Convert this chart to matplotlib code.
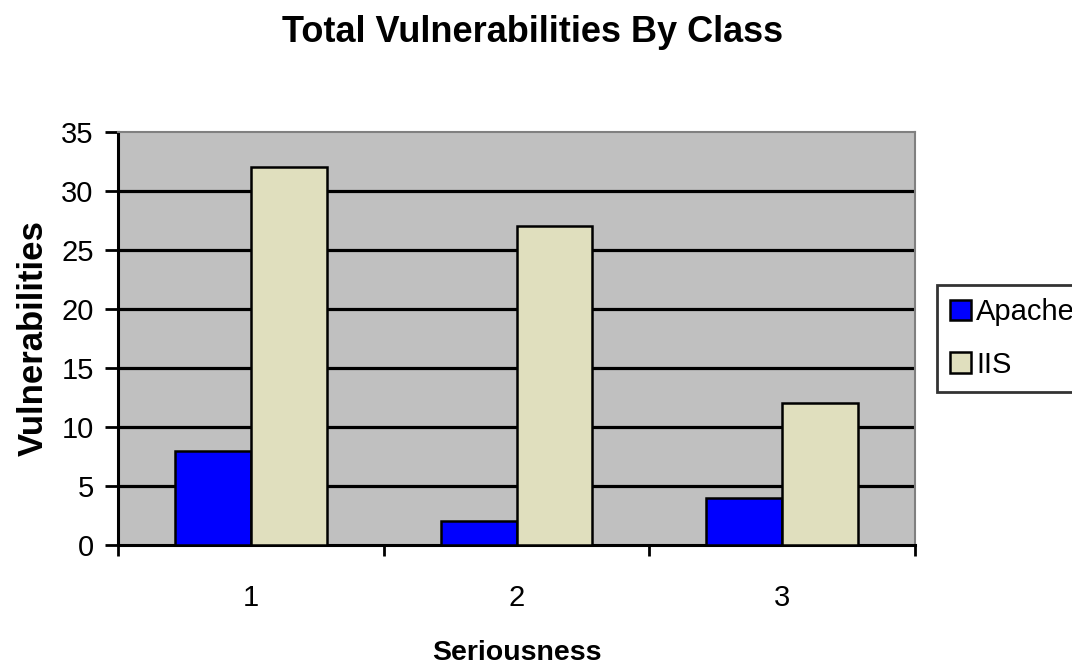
import matplotlib
matplotlib.use("Agg")
import matplotlib.pyplot as plt
import numpy as np

categories = ["1", "2", "3"]
apache = [8, 2, 4]
iis = [32, 27, 12]
series_names = ["Apache", "IIS"]
yticks = [0, 5, 10, 15, 20, 25, 30, 35]

plt.rcParams['font.family'] = ['Liberation Sans', 'DejaVu Sans']

fig = plt.figure(figsize=(10.72, 6.69), dpi=100)
ax = fig.add_axes([118/1072, 1-545/669, (915-118)/1072, (545-132)/669])
ax.set_facecolor('#C0C0C0')

x = np.arange(1, len(categories) + 1)
w = 0.285
ax.bar(x - w/2, apache, w, color='#0000FF', edgecolor='black', linewidth=1.8, zorder=3, label=series_names[0])
ax.bar(x + w/2, iis, w, color='#E0DFBE', edgecolor='black', linewidth=1.8, zorder=3, label=series_names[1])

ax.set_xlim(0.5, len(categories) + 0.5)
ax.set_ylim(0, 35)
ax.set_yticks(yticks)
ax.set_yticklabels([str(t) for t in yticks], fontsize=21)
for t in yticks[1:-1]:
    ax.axhline(t, color='black', linewidth=2.3, zorder=1)

ax.set_xticks(x)
ax.set_xticklabels(categories, fontsize=21)
ax.tick_params(axis='x', which='major', length=0, pad=28)
ax.set_xticks(np.arange(0.5, len(categories) + 1), minor=True)
ax.tick_params(axis='x', which='minor', length=8, width=2, direction='out')
ax.tick_params(axis='y', length=9.5, width=2, direction='out', pad=8)

for s in ['left', 'bottom']:
    ax.spines[s].set_color('black')
    ax.spines[s].set_linewidth(2.2)
for s in ['top', 'right']:
    ax.spines[s].set_color('#808080')
    ax.spines[s].set_linewidth(1.5)

ax.set_xlabel('Seriousness', fontsize=20.5, fontweight='bold', labelpad=20)
ax.set_ylabel('Vulnerabilities', fontsize=25, fontweight='bold', labelpad=8)
fig.text(0.497, 1-42/669, 'Total Vulnerabilities By Class', fontsize=26, fontweight='bold',
         ha='center', va='baseline')

leg = fig.legend(loc='upper left', bbox_to_anchor=(937/1072, 1-285/669), fontsize=21,
                 frameon=True, fancybox=False, edgecolor='black', handlelength=0.7,
                 handleheight=0.7, handletextpad=0.2, labelspacing=0.85, borderpad=0.45,
                 borderaxespad=0)
leg.get_frame().set_linewidth(2)

fig.savefig('out.png', dpi=100)
